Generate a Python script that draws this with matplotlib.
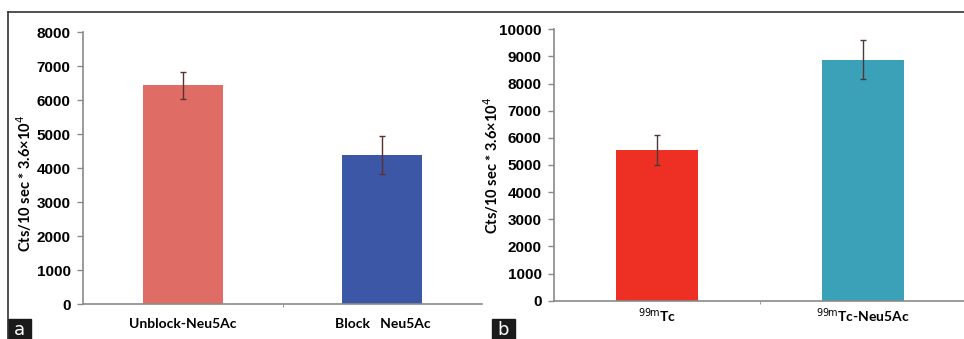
"""Two-panel bar chart: Neu5Ac counts with error bars."""

import matplotlib
matplotlib.use("Agg")
import matplotlib.pyplot as plt
from matplotlib.lines import Line2D
from matplotlib.patches import Rectangle

# panel a
labels_a = ["Unblock-Neu5Ac", "Block   Neu5Ac"]
values_a = [6430, 4390]
errors_a = [410, 550]
colors_a = ["#E06C66", "#3D57A7"]

# panel b
labels_b = ["$^{\\mathrm{99m}}$Tc", "$^{\\mathrm{99m}}$Tc-Neu5Ac"]
values_b = [5550, 8870]
errors_b = [560, 720]
colors_b = ["#EE3024", "#3AA1B9"]

ylabel = "Cts/10 sec * 3.6×10$^{4}$"
AXIS_GRAY = "#8a8a8a"
W, H = 964, 339


def style_axes(ax, ymax, step):
    ax.set_xlim(-0.5, 1.5)
    ax.set_ylim(0, ymax)
    ax.set_yticks(range(0, ymax + 1, step))
    for side in ("top", "right"):
        ax.spines[side].set_visible(False)
    for side in ("left", "bottom"):
        ax.spines[side].set_color(AXIS_GRAY)
        ax.spines[side].set_linewidth(1.2)
    ax.tick_params(axis="y", direction="out", length=4, color=AXIS_GRAY, width=1,
                   labelsize=11, pad=5)
    for lab in ax.get_yticklabels():
        lab.set_fontweight("bold")
        lab.set_family("Liberation Sans")
    ax.set_xticks([0.5], minor=True)
    ax.tick_params(axis="x", which="minor", length=2, color=AXIS_GRAY)
    ax.tick_params(axis="x", which="major", length=0, labelsize=10, pad=10)
    for lab in ax.get_xticklabels():
        lab.set_fontweight("bold")
        lab.set_family("Lato")
    ax.set_ylabel(ylabel, family="Lato", fontweight="bold", fontsize=10.5)


fig = plt.figure(figsize=(9.64, 3.39), dpi=100)
ax_a = fig.add_axes([0.0861, 0.1032, 0.414, 0.802])
ax_b = fig.add_axes([0.5747, 0.113, 0.4274, 0.8006])

ax_a.bar(range(2), values_a, width=0.4, color=colors_a, yerr=errors_a,
         error_kw=dict(ecolor="#5a3030", elinewidth=1, capsize=2.5, capthick=1))
ax_a.set_xticks(range(2), labels_a)
style_axes(ax_a, 8000, 1000)
ax_a.yaxis.set_label_coords((34 - 83) / 399, 0.445)

ax_b.bar(range(2), values_b, width=0.4, color=colors_b, yerr=errors_b,
         error_kw=dict(ecolor="#4a3a3a", elinewidth=1, capsize=2.5, capthick=1))
ax_b.set_xticks(range(2), labels_b)
style_axes(ax_b, 10000, 1000)
ax_b.tick_params(axis="x", which="major", pad=4)
ax_b.yaxis.set_label_coords((501 - 554) / 412, 0.5)

# outer frame
fig.add_artist(Line2D([8 / W, 1], [1 - 12 / H, 1 - 12 / H], color="#333333", lw=1.2))
fig.add_artist(Line2D([8 / W, 8 / W], [0, 1 - 12 / H], color="#333333", lw=1.2))

# panel letters
for x0, letter in ((8, "a"), (492, "b")):
    fig.add_artist(Rectangle((x0 / W, 0), 23 / W, 20 / H, color="#1a1a1a",
                             transform=fig.transFigure))
    fig.text((x0 + 11.5) / W, 9 / H, letter, color="white", fontsize=13,
             ha="center", va="center", family="DejaVu Sans")

fig.savefig("out.png", dpi=100)
